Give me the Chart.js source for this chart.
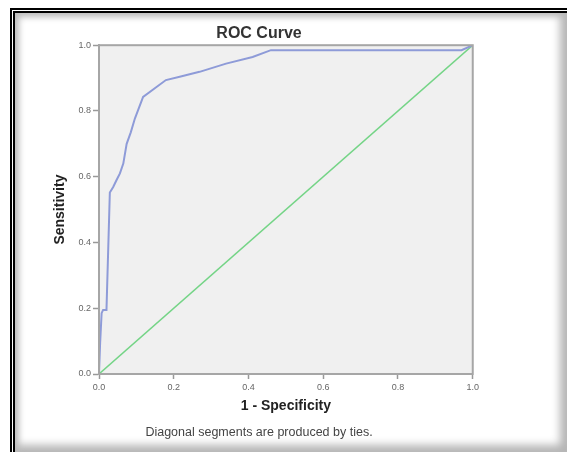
<!DOCTYPE html>
<html>
<head>
<meta charset="utf-8">
<script src="https://cdn.jsdelivr.net/npm/chart.js@4"></script>
<style>
    body { margin: 0; background: #fff; width: 567px; height: 452px; overflow: hidden; position: relative; }
    #frame {
        position: absolute; left: 10px; top: 8px; width: 552px; height: 439px;
        border-top: 5px double #000; border-left: 5px double #000;
        box-shadow: inset 4px 4px 6px #bbb, inset -7px -7px 8px #b5b5b5;
    }
    #wrap { position: absolute; left: 38px; top: 18px; width: 444px; height: 430px; }
</style>
</head>
<body>
<div id="frame"></div>
<div id="wrap"><canvas id="roc-chart"></canvas></div>
<script>
// ROC curve points
const fprValues = [0, 0.003, 0.007, 0.011, 0.02, 0.029, 0.038, 0.047, 0.056, 0.065, 0.074, 0.085, 0.096, 0.118, 0.179, 0.216, 0.269, 0.34, 0.411, 0.46, 0.56, 0.97, 1.0];
const tprValues = [0, 0.094, 0.185, 0.195, 0.195, 0.552, 0.569, 0.59, 0.61, 0.64, 0.70, 0.735, 0.777, 0.843, 0.894, 0.904, 0.919, 0.944, 0.964, 0.985, 0.985, 0.985, 1.0];
const refX = [0, 1];
const refY = [0, 1];
const axisMin = 0;
const axisMax = 1;
const tickStep = 0.2;

function toPoints(xs, ys) {
    return xs.map((x, i) => ({ x: x, y: ys[i] }));
}

const plotFrame = {
    id: 'plotFrame',
    beforeDraw(chart) {
        const { ctx, chartArea: a } = chart;
        ctx.save();
        ctx.fillStyle = '#f0f0f0';
        ctx.fillRect(a.left, a.top, a.right - a.left, a.bottom - a.top);
        ctx.restore();
    },
    afterDatasetsDraw(chart) {
        const { ctx, chartArea: a } = chart;
        ctx.save();
        ctx.strokeStyle = '#a6a6a6';
        ctx.lineWidth = 2;
        ctx.strokeRect(a.left, a.top, a.right - a.left, a.bottom - a.top);
        ctx.restore();
    }
};

function initChart() {
    const ctx = document.getElementById('roc-chart').getContext('2d');
    return new Chart(ctx, {
        type: 'scatter',
        data: {
            datasets: [{
                label: 'ROC',
                data: toPoints(fprValues, tprValues),
                showLine: true,
                borderColor: '#8e9bd8',
                borderWidth: 2,
                pointRadius: 0,
                fill: false
            }, {
                label: 'Reference',
                data: toPoints(refX, refY),
                showLine: true,
                borderColor: '#74d486',
                borderWidth: 1.5,
                pointRadius: 0,
                fill: false
            }]
        },
        options: {
            responsive: true,
            maintainAspectRatio: false,
            animation: false,
            layout: { padding: { left: 0, right: 2, top: 0, bottom: 0 } },
            scales: {
                x: {
                    type: 'linear',
                    min: axisMin,
                    max: axisMax,
                    afterFit: s => { s.height = 45; },
                    ticks: {
                        stepSize: tickStep,
                        padding: 3,
                        color: '#666',
                        font: { family: 'Arial, Liberation Sans', size: 9 },
                        callback: v => v.toFixed(1)
                    },
                    grid: { drawOnChartArea: false, tickLength: 5, color: '#999', tickWidth: 1.5 },
                    border: { color: '#a6a6a6', width: 2 },
                    title: {
                        display: true,
                        text: '1 - Specificity',
                        color: '#222',
                        font: { family: 'Arial, Liberation Sans', size: 14, weight: 'bold' },
                        padding: { top: 0, bottom: 4 }
                    }
                },
                y: {
                    type: 'linear',
                    min: axisMin,
                    max: axisMax,
                    afterFit: s => { s.width = 61; },
                    ticks: {
                        stepSize: tickStep,
                        padding: 2,
                        color: '#666',
                        font: { family: 'Arial, Liberation Sans', size: 9 },
                        callback: v => v.toFixed(1)
                    },
                    grid: { drawOnChartArea: false, tickLength: 6, color: '#999', tickWidth: 1.5 },
                    border: { color: '#a6a6a6', width: 2 },
                    title: {
                        display: true,
                        text: 'Sensitivity',
                        color: '#222',
                        font: { family: 'Arial, Liberation Sans', size: 14, weight: 'bold' },
                        padding: { top: 14, bottom: 0 }
                    }
                }
            },
            plugins: {
                legend: { display: false },
                tooltip: { enabled: false },
                title: {
                    display: true,
                    text: 'ROC Curve',
                    color: '#333',
                    font: { family: 'Arial, Liberation Sans', size: 16, weight: 'bold' },
                    padding: { top: 6, bottom: 2 }
                },
                subtitle: {
                    display: true,
                    position: 'bottom',
                    text: 'Diagonal segments are produced by ties.',
                    color: '#444',
                    font: { family: 'Arial, Liberation Sans', size: 12.5 },
                    padding: { top: 6, bottom: 8 }
                }
            }
        },
        plugins: [plotFrame]
    });
}

document.addEventListener('DOMContentLoaded', function() {
    initChart();
});
</script>
</body>
</html>
